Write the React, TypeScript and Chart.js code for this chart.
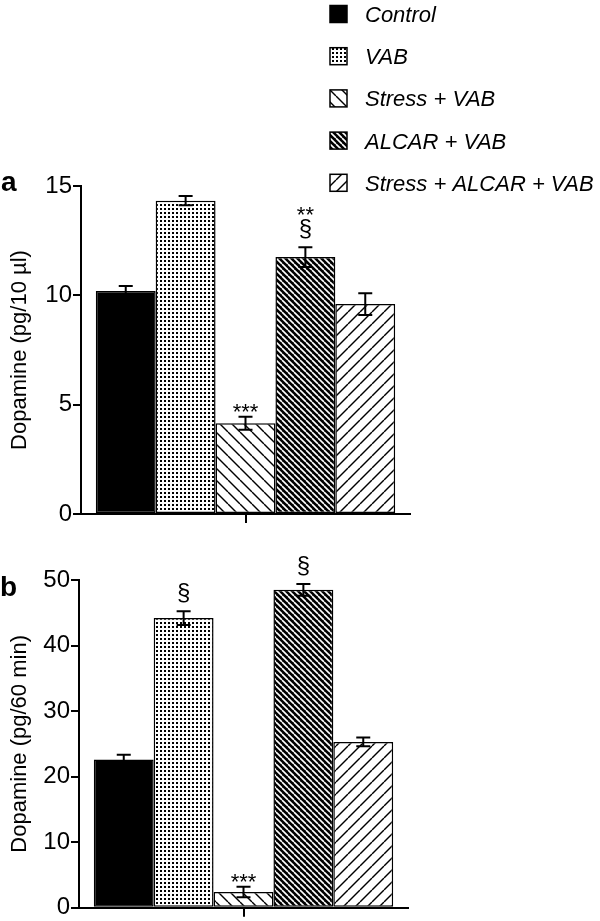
import React, { useEffect, useRef } from 'react';
import { Chart, registerables } from 'chart.js';

Chart.register(...registerables);

// ---------- data ----------
const categories = [''];
const seriesLabels = ['Control', 'VAB', 'Stress + VAB', 'ALCAR + VAB', 'Stress + ALCAR + VAB'];
const patternKinds = ['solid', 'dots', 'back', 'dense', 'fwd'];

const valuesA = [10.2, 14.33, 4.15, 11.75, 9.6];
const errorsA = [0.23, 0.21, 0.3, 0.45, 0.5];
const starsA = ['', '', '***', '**', ''];
const sectA = ['', '', '', '§', ''];
const yTicksA = [0, 5, 10, 15];
const titleA = 'Dopamine (pg/10 µl)';

const valuesB = [22.6, 44.2, 2.4, 48.5, 25.3];
const errorsB = [0.75, 1.05, 0.8, 0.9, 0.65];
const starsB = ['', '', '***', '', ''];
const sectB = ['', '§', '', '§', ''];
const yTicksB = [0, 10, 20, 30, 40, 50];
const titleB = 'Dopamine (pg/60 min)';

const FAMILY = '"Liberation Sans", Arial, Helvetica, sans-serif';

function makePattern(kind: string): CanvasPattern | string {
  if (kind === 'solid') return '#000';
  const c = document.createElement('canvas');
  const ctx = c.getContext('2d')!;
  if (kind === 'dots') {
    c.width = 4;
    c.height = 4;
    ctx.fillStyle = '#fff';
    ctx.fillRect(0, 0, 4, 4);
    ctx.fillStyle = '#000';
    ctx.fillRect(0, 0, 2, 2);
  } else {
    const s = kind === 'dense' ? 6 : 12;
    c.width = s;
    c.height = s;
    ctx.fillStyle = kind === 'dense' ? '#000' : '#fff';
    ctx.fillRect(0, 0, s, s);
    ctx.strokeStyle = kind === 'dense' ? '#fff' : '#000';
    ctx.lineWidth = kind === 'dense' ? 1.6 : 1.4;
    for (const o of [-s, 0, s]) {
      ctx.beginPath();
      if (kind === 'fwd') {
        ctx.moveTo(o, s);
        ctx.lineTo(o + s, 0);
      } else {
        ctx.moveTo(o, 0);
        ctx.lineTo(o + s, s);
      }
      ctx.stroke();
    }
  }
  return ctx.createPattern(c, 'repeat')!;
}

interface ChartSpec {
  values: number[];
  errors: number[];
  stars: string[];
  sect: string[];
  yTicks: number[];
  title: string;
  fills: (CanvasPattern | string)[];
  padTop: number;
  padRight: number;
  padBottom: number;
  xH: number;
  yW: number;
  panel: string;
  panelX: number;
  panelY: number;
  legend: boolean;
}

function makeChart(canvas: HTMLCanvasElement, sp: ChartSpec) {
  const errPlugin = {
    id: 'errBars',
    afterDatasetsDraw(chart: any) {
      const ctx: CanvasRenderingContext2D = chart.ctx;
      const y = chart.scales.y;
      ctx.save();
      chart.data.datasets.forEach((ds: any, i: number) => {
        const el = chart.getDatasetMeta(i).data[0];
        const v = ds.data[0] as number;
        const e = sp.errors[i];
        const x = el.x;
        const yt = y.getPixelForValue(v + e);
        const yb = y.getPixelForValue(v - e);
        ctx.strokeStyle = '#000';
        ctx.lineWidth = 2;
        ctx.beginPath();
        ctx.moveTo(x, yb);
        ctx.lineTo(x, yt);
        ctx.moveTo(x - 7, yt);
        ctx.lineTo(x + 7, yt);
        ctx.moveTo(x - 7, yb);
        ctx.lineTo(x + 7, yb);
        ctx.stroke();
        ctx.fillStyle = '#000';
        ctx.textAlign = 'center';
        ctx.textBaseline = 'alphabetic';
        if (sp.sect[i]) {
          ctx.font = `24px ${FAMILY}`;
          ctx.fillText(sp.sect[i], x, yt - 11);
        }
        if (sp.stars[i]) {
          ctx.font = `22px ${FAMILY}`;
          ctx.fillText(sp.stars[i], x, sp.sect[i] ? yt - 25 : yt + 2);
        }
      });
      ctx.restore();
    },
  };

  const decoPlugin = {
    id: 'deco',
    afterDraw(chart: any) {
      const ctx: CanvasRenderingContext2D = chart.ctx;
      ctx.save();
      ctx.fillStyle = '#000';
      ctx.textAlign = 'left';
      ctx.textBaseline = 'alphabetic';
      ctx.font = `bold 28px ${FAMILY}`;
      ctx.fillText(sp.panel, sp.panelX, sp.panelY);
      if (sp.legend) {
        chart.data.datasets.forEach((ds: any, i: number) => {
          const cy = 14 + i * 42.2;
          ctx.fillStyle = sp.fills[i] as any;
          ctx.fillRect(330, cy - 8.5, 17, 17);
          ctx.strokeStyle = '#000';
          ctx.lineWidth = 1.5;
          ctx.strokeRect(330, cy - 8.5, 17, 17);
          ctx.fillStyle = '#000';
          ctx.font = `italic 22px ${FAMILY}`;
          ctx.fillText(ds.label, 365, cy + 8);
        });
      }
      ctx.restore();
    },
  };

  return new Chart(canvas, {
    type: 'bar',
    data: {
      labels: categories,
      datasets: seriesLabels.map((label, i) => ({
        label,
        data: [sp.values[i]],
        backgroundColor: sp.fills[i] as any,
        borderColor: '#000',
        borderWidth: 1.5,
        borderSkipped: false,
        categoryPercentage: 0.91,
        barPercentage: 1,
      })),
    },
    options: {
      animation: false,
      responsive: false,
      layout: { padding: { left: 0, right: sp.padRight, top: sp.padTop, bottom: sp.padBottom } },
      plugins: { legend: { display: false }, tooltip: { enabled: false } },
      scales: {
        x: {
          type: 'category',
          offset: true,
          grid: {
            display: true,
            offset: false,
            drawOnChartArea: false,
            drawTicks: true,
            tickLength: 9,
            color: '#000',
            lineWidth: 2,
          },
          border: { display: true, color: '#000', width: 2 },
          ticks: { display: false },
          afterFit: (s: any) => {
            s.height = sp.xH;
          },
        },
        y: {
          min: sp.yTicks[0],
          max: sp.yTicks[sp.yTicks.length - 1],
          afterBuildTicks: (s: any) => {
            s.ticks = sp.yTicks.map((v) => ({ value: v }));
          },
          grid: {
            drawOnChartArea: false,
            drawTicks: true,
            tickLength: 8,
            color: '#000',
            lineWidth: 2,
          },
          border: { display: true, color: '#000', width: 2 },
          ticks: { color: '#000', padding: 1, font: { family: FAMILY, size: 24, lineHeight: 1 } },
          title: {
            display: true,
            text: sp.title,
            color: '#000',
            font: { family: FAMILY, size: 22 },
            padding: { top: 7, bottom: 0 },
          },
          afterFit: (s: any) => {
            s.width = sp.yW;
          },
        },
      },
    } as any,
    plugins: [errPlugin, decoPlugin],
  });
}

export default function App() {
  const refA = useRef<HTMLCanvasElement>(null);
  const refB = useRef<HTMLCanvasElement>(null);

  useEffect(() => {
    const fills = patternKinds.map(makePattern);
    const a = makeChart(refA.current!, {
      values: valuesA,
      errors: errorsA,
      stars: starsA,
      sect: sectA,
      yTicks: yTicksA,
      title: titleA,
      fills,
      padTop: 186,
      padRight: 190,
      padBottom: 4,
      xH: 12,
      yW: 81,
      panel: 'a',
      panelX: 1,
      panelY: 191,
      legend: true,
    });
    const b = makeChart(refB.current!, {
      values: valuesB,
      errors: errorsB,
      stars: starsB,
      sect: sectB,
      yTicks: yTicksB,
      title: titleB,
      fills,
      padTop: 50,
      padRight: 192,
      padBottom: 2.3,
      xH: 11,
      yW: 79,
      panel: 'b',
      panelX: 0,
      panelY: 66,
      legend: false,
    });
    return () => {
      a.destroy();
      b.destroy();
    };
  }, []);

  return (
    <div
      style={{
        position: 'absolute',
        left: 0,
        top: 0,
        width: 600,
        height: 921,
        overflow: 'hidden',
        background: '#fff',
      }}
    >
      <canvas
        ref={refA}
        width={600}
        height={530}
        style={{ position: 'absolute', left: 0, top: 0, width: 600, height: 530 }}
      />
      <canvas
        ref={refB}
        width={600}
        height={391}
        style={{ position: 'absolute', left: 0, top: 530, width: 600, height: 391 }}
      />
    </div>
  );
}
